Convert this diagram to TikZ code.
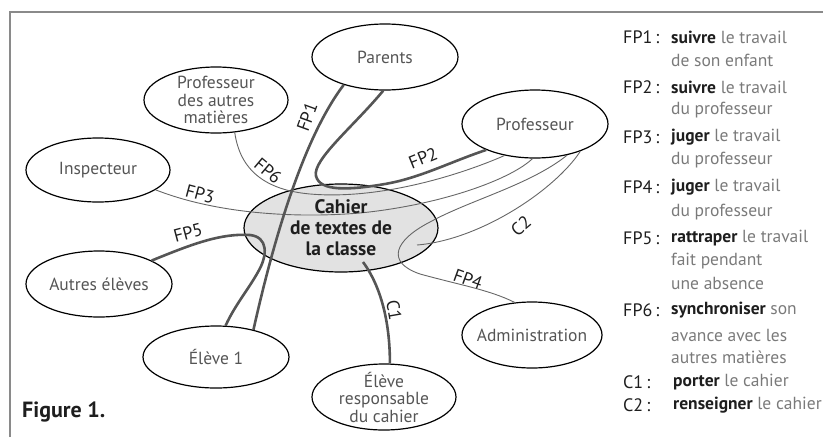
\documentclass[tikz,border=0pt]{standalone}
\usepackage{fontspec}
\setmainfont{PT Sans}
\usetikzlibrary{shapes.geometric}
\definecolor{ink}{HTML}{1E1E1E}
\definecolor{txt}{HTML}{555555}
\definecolor{leg}{HTML}{7A7A7A}
\definecolor{thk}{HTML}{555555}
\definecolor{thn}{HTML}{666666}
\definecolor{cfill}{HTML}{E2E2E2}
\definecolor{frame}{HTML}{8A8A8A}
\newcommand{\kw}[1]{{\color{ink}\bfseries #1}}
\begin{document}
\begin{tikzpicture}[x=1pt,y=-1pt,
 ell/.style={ellipse, draw=black, line width=1.2pt, inner sep=0pt},
 etext/.style={align=center, text=txt, inner sep=0pt, font=\fontsize{17.5}{17.5}\selectfont},
 thickline/.style={draw=thk, line width=2.6pt},
 thinline/.style={draw=thn, line width=0.9pt},
 lab/.style={text=ink, inner sep=0pt, font=\fontsize{18}{18}\selectfont},
 legk/.style={anchor=west, inner sep=0pt, text=ink, font=\fontsize{18}{18}\selectfont},
 legv/.style={anchor=west, inner sep=0pt, text=leg, font=\fontsize{17.5}{18}\selectfont},
]
\useasboundingbox (0,0) rectangle (823,437);
\draw[frame, line width=1.2pt] (10,437) -- (10,12) -- (823,12);

% ellipses
\node[ell, fill=cfill, minimum width=194pt, minimum height=88pt] (cah) at (341,228) {};
\node[ell, minimum width=146pt, minimum height=66pt] (par) at (385,57) {};
\node[ell, minimum width=144pt, minimum height=66pt] (pam) at (216,100) {};
\node[ell, minimum width=144pt, minimum height=64pt] (insp) at (98,170) {};
\node[ell, minimum width=146pt, minimum height=68pt] (prof) at (535,124) {};
\node[ell, minimum width=146pt, minimum height=66pt] (aut) at (99,284) {};
\node[ell, minimum width=146pt, minimum height=62pt] (el1) at (216,357) {};
\node[ell, minimum width=144pt, minimum height=66pt] (elr) at (384,397) {};
\node[ell, minimum width=140pt, minimum height=66pt] (adm) at (532,335) {};

\coordinate (c2end) at (417,245);
\coordinate (c1start) at (363,262);

% connectors
\draw[thinline] (pam.300) .. controls (240,170) and (265,190) .. (310,194)
  .. controls (380,200) and (460,175) .. (prof.226);
\draw[thinline] (insp.341) .. controls (220,215) and (300,218) .. (360,213)
  .. controls (440,205) and (510,180) .. (prof.266);
\draw[thinline] (prof.316) .. controls (530,185) and (470,200) .. (430,222)
  .. controls (395,240) and (385,262) .. (420,274)
  .. controls (460,285) and (490,290) .. (adm.118);
\draw[thinline] (prof.329) .. controls (555,190) and (480,240) .. (c2end);
\draw[thickline] (par.214) .. controls (298,145) and (268,265) .. (el1.36);
\draw[thickline] (par.267) .. controls (355,125) and (312,160) .. (316,176)
  .. controls (320,192) and (350,190) .. (385,184)
  .. controls (420,178) and (450,162) .. (prof.208);
\draw[thickline] (aut.24) .. controls (190,245) and (220,233) .. (250,235)
  .. controls (268,237) and (268,255) .. (258,272)
  .. controls (248,290) and (235,305) .. (el1.73);
\draw[thickline] (c1start) .. controls (380,285) and (390,320) .. (elr.80);

% ellipse texts
\node[align=center, inner sep=0pt, text=ink, font=\bfseries\fontsize{19.5}{21}\selectfont] (caht) at (cah) {Cahier\\de textes de\\la classe};
\node[etext] (part) at (par) {Parents};
\node[etext] (pamt) at (pam) {Professeur\\des autres\\matières};
\node[etext] (inspt) at (insp) {Inspecteur};
\node[etext] (proft) at (prof) {Professeur};
\node[etext] (autt) at (aut) {Autres élèves};
\node[etext] (el1t) at (el1) {Élève 1};
\node[etext] (elrt) at (elr) {Élève\\responsable\\du cahier};
\node[etext] (admt) at (adm) {Administration};

% connector labels
\node[lab, rotate=70] (lfp1) at (307,117) {FP1};
\node[lab, rotate=-40] (lfp6) at (268,171) {FP6};
\node[lab, rotate=-15] (lfp3) at (200,194) {FP3};
\node[lab, rotate=22] (lfp2) at (423,158) {FP2};
\node[lab, rotate=40] (lc2) at (521,226) {C2};
\node[lab, rotate=-20] (lfp4) at (468,279) {FP4};
\node[lab, rotate=15] (lfp5) at (188,233) {FP5};
\node[lab, rotate=-80] (lc1) at (394,310) {C1};

% legend
\node[legk] (k1) at (623,37) {FP1\,:};
\node[legv] (v1) at (671,37) {\kw{suivre} le travail};
\node[legv] (v1b) at (671,60) {de son enfant};
\node[legk] (k2) at (623,87) {FP2\,:};
\node[legv] (v2) at (671,87) {\kw{suivre} le travail};
\node[legv] (v2b) at (671,110) {du professeur};
\node[legk] (k3) at (623,137) {FP3\,:};
\node[legv] (v3) at (671,137) {\kw{juger} le travail};
\node[legv] (v3b) at (671,160) {du professeur};
\node[legk] (k4) at (623,187) {FP4\,:};
\node[legv] (v4) at (671,187) {\kw{juger} le travail};
\node[legv] (v4b) at (671,212) {du professeur};
\node[legk] (k5) at (623,238) {FP5\,:};
\node[legv] (v5) at (671,238) {\kw{rattraper} le travail};
\node[legv] (v5b) at (671,261) {fait pendant};
\node[legv] (v5c) at (671,283) {une absence};
\node[legk] (k6) at (623,310) {FP6\,:};
\node[legv] (v6) at (671,310) {\kw{synchroniser} son};
\node[legv] (v6b) at (671,335) {avance avec les};
\node[legv] (v6c) at (671,357) {autres matières};
\node[legk] (k7) at (623,382) {C1\,:};
\node[legv] (v7) at (673,382) {\kw{porter} le cahier};
\node[legk] (k8) at (623,405) {C2\,:};
\node[legv] (v8) at (673,405) {\kw{renseigner} le cahier};

\node[anchor=west, inner sep=0pt, text=ink, font=\bfseries\fontsize{22}{22}\selectfont] (fig) at (22,412) {Figure 1.};
\end{tikzpicture}
\end{document}
